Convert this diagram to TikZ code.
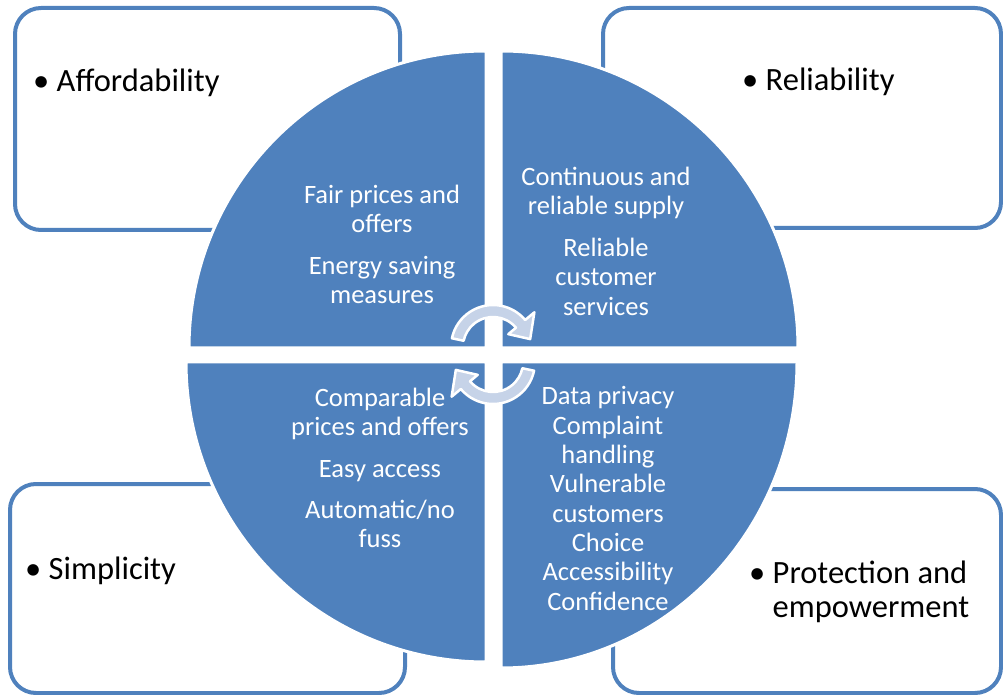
\documentclass[tikz,border=0pt]{standalone}
\usepackage{fontspec}
\setmainfont{Carlito}
\usepackage{xcolor}
\usepackage{tikz}
\definecolor{qblue}{RGB}{79,129,189}
\definecolor{turnfill}{RGB}{198,211,232}

\begin{document}
\begin{tikzpicture}[x=1pt,y=1pt,
	box/.style={draw=qblue,line width=4pt,rounded corners=26pt,fill=white,inner sep=0pt},
	quad/.style={fill=qblue,draw=white,line width=3pt},
	turn/.style={fill=turnfill,draw=white,line width=2.5pt,line join=round},
	point/.style={font=\fontsize{32.5}{34}\selectfont,anchor=base west,inner sep=0pt},
	item/.style={font=\fontsize{26.5}{29.3}\selectfont,text=white,align=center,inner sep=0pt}]
	\useasboundingbox (0,0) rectangle (1003,694);
	\node[box,minimum width=385,minimum height=222] (afford) at (207.5,575) {};
	\node[box,minimum width=398,minimum height=220] (reliab) at (802,576) {};
	\node[box,minimum width=395,minimum height=209] (simpl) at (207.5,105.5) {};
	\node[box,minimum width=388,minimum height=204] (protect) at (807,103) {};
	\node[point] (afford-l) at (33,602) {\textbullet\ Affordability};
	\node[point] (reliab-l) at (742,603) {\textbullet\ Reliability};
	\node[point] (simpl-l) at (25,115) {\textbullet\ Simplicity};
	\node[point] (protect-l) at (749,111) {\textbullet\ \begin{tabular}[t]{@{}l@{}}Protection and\\empowerment\end{tabular}};
	\draw[quad] (486,346) -- (189,346) arc[start angle=180,end angle=90,radius=297] -- cycle;
	\draw[quad] (501,346) -- (501,643) arc[start angle=90,end angle=0,radius=297] -- cycle;
	\draw[quad] (486,332) -- (486,32) arc[start angle=270,end angle=180,radius=300] -- cycle;
	\draw[quad] (501,332) -- (797,332) arc[start angle=0,end angle=-90,x radius=296,y radius=306] -- cycle;
	\node[item] (afford-i) at (382,449.5) {Fair prices and\\offers\\[12pt]Energy saving\\measures};
	\node[item] (reliab-i) at (606,453) {Continuous and\\reliable supply\\[13pt]Reliable\\customer\\services};
	\node[item] (simpl-i) at (380,226) {Comparable\\prices and offers\\[12pt]Easy access\\[12pt]Automatic/no\\fuss};
	\node[item] (protect-i) at (608,195.5) {Data privacy\\Complaint\\handling\\Vulnerable\\customers\\Choice\\Accessibility\\Confidence};
	\foreach \cx/\cy/\r in {493/347/0,493/332/180}
		\draw[turn,shift={(\cx,\cy)},rotate=\r] (168:42) arc[start angle=168,end angle=40,radius=42] -- (40:54) -- (12:38) -- (40:20) -- (40:30) arc[start angle=40,end angle=168,radius=30] -- cycle;
\end{tikzpicture}
\end{document}
